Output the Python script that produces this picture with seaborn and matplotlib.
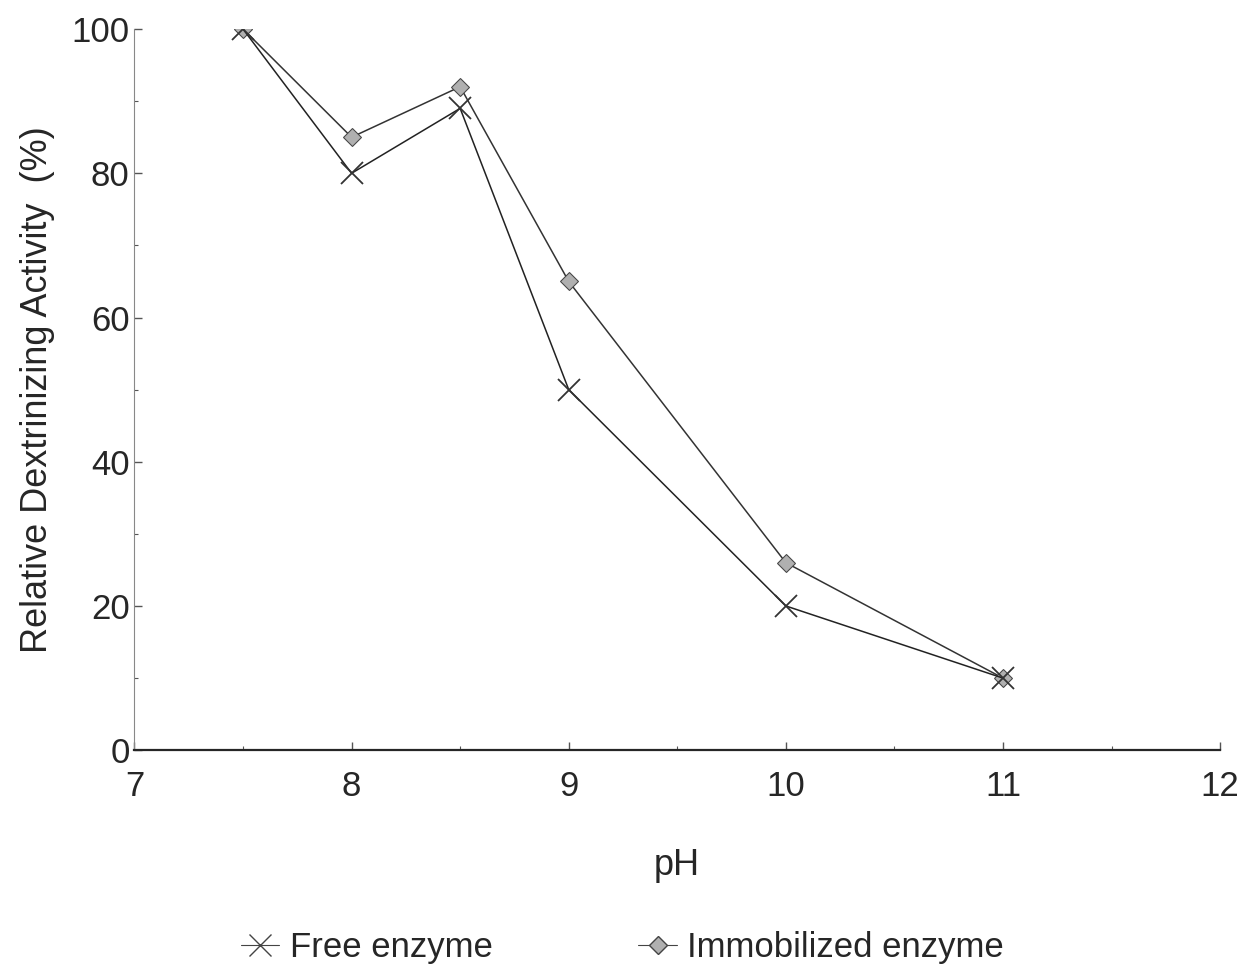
"""
Relative dextrinizing activity vs pH, free vs immobilized enzyme
"""

import seaborn as sns
import matplotlib.pyplot as plt
from matplotlib.ticker import MultipleLocator

# values
ph = [7.5, 8, 8.5, 9, 10, 11]
free_enzyme = [100, 80, 89, 50, 20, 10]
immobilized_enzyme = [100, 85, 92, 65, 26, 10]

sns.set_style("ticks")
plt.rcParams["font.family"] = ["Liberation Sans", "DejaVu Sans"]

fig = plt.figure(figsize=(12.45, 9.68), dpi=100)
ax = fig.add_axes([0.108, 0.225, 0.872, 0.745])

sns.lineplot(x=ph, y=immobilized_enzyme, color="#333333", linewidth=1.1,
             marker="D", markersize=9, markerfacecolor="#b0b0b0",
             markeredgecolor="#444444", ax=ax, label="Immobilized enzyme")
sns.lineplot(x=ph, y=free_enzyme, color="#222222", linewidth=1.1,
             marker="x", markersize=16, markeredgewidth=1.3,
             markeredgecolor="#333333", ax=ax, label="Free enzyme")
ax.get_legend().remove()

ax.set_xlim(7, 12)
ax.set_ylim(0, 100)
ax.xaxis.set_major_locator(MultipleLocator(1))
ax.xaxis.set_minor_locator(MultipleLocator(0.5))
ax.yaxis.set_major_locator(MultipleLocator(20))
ax.yaxis.set_minor_locator(MultipleLocator(10))
ax.tick_params(which="both", direction="in", labelsize=25, color="#555555")
ax.tick_params(which="major", length=6, width=1)
ax.tick_params(which="minor", length=3, width=0.8)
ax.tick_params(axis="x", pad=14)
ax.spines["top"].set_visible(False)
ax.spines["right"].set_visible(False)
ax.spines["left"].set_color("#888888")
ax.spines["left"].set_linewidth(0.8)
ax.spines["bottom"].set_linewidth(1.6)

ax.set_xlabel("pH", fontsize=26, labelpad=33)
ax.set_ylabel("Relative Dextrinizing Activity  (%)", fontsize=26, labelpad=12)

handles = [
    plt.Line2D([], [], color="#444444", marker="x", markersize=16, linewidth=0.8),
    plt.Line2D([], [], color="#444444", marker="D", markersize=9,
               markerfacecolor="#b0b0b0", linewidth=0.8),
]
fig.legend(handles, ["Free enzyme", "Immobilized enzyme"], loc="lower center",
           bbox_to_anchor=(0.5, -0.028), ncol=2, frameon=False, fontsize=25,
           handlelength=1.1, handletextpad=0.3, columnspacing=4.2)

fig.savefig("out.png", dpi=100)
